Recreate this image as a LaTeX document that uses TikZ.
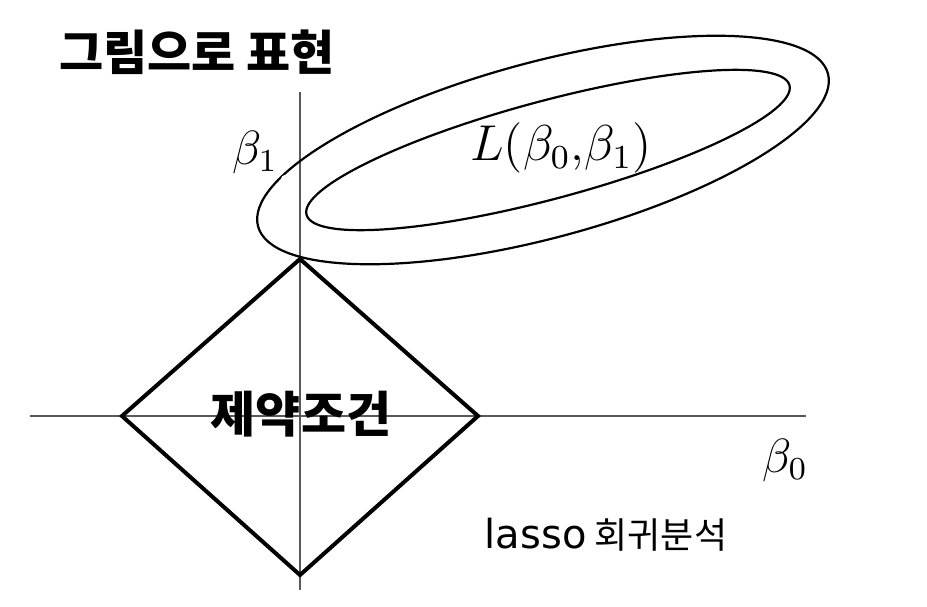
\documentclass[tikz,border=0pt]{standalone}
\usepackage{amsmath}
\usepackage{fontspec}
\usepackage{tikz}
\usetikzlibrary{calc,positioning}
\newfontfamily\cjk{Noto Sans CJK KR}
\newfontfamily\latn{DejaVu Sans}

\tikzset{
	axis/.style={draw=black!65,line width=1.5pt},
	ball/.style={draw=black,line width=4pt,line join=miter},
	contour/.style={draw=black,line width=2.2pt},
	mathlbl/.style={inner sep=0pt,font=\fontsize{12}{12}\selectfont,scale=4},
	hangul/.style={inner sep=0pt}
}

\begin{document}
\begin{tikzpicture}[x=1pt,y=-1pt]
	\useasboundingbox (0,0) rectangle (927,606);
	% axes
	\coordinate (xl) at (30,416);
	\coordinate (xr) at (806,416);
	\coordinate (yt) at (300,92);
	\coordinate (yb) at (300,590);
	\draw[axis] (xl) -- (xr);
	\draw[axis] (yt) -- (yb);
	% constraint region
	\coordinate (dl) at (122,416);
	\coordinate (dt) at (300,259);
	\coordinate (dr) at (478,416);
	\coordinate (db) at (300,575);
	\draw[ball] (dl) -- (dt) -- (dr) -- (db) -- cycle;
	% loss contours
	\draw[contour,rotate around={15:(543,150)}] (543,150) ellipse [x radius=295,y radius=88];
	\draw[contour,rotate around={15:(548,150)}] (548,150) ellipse [x radius=250,y radius=49];
	\fill[white] (285,179) circle (4);
	% labels
	\node[mathlbl] (b1) at (255,152) {$\beta_1$};
	\node[mathlbl] (b0) at (785,460) {$\beta_0$};
	\node[mathlbl,scale=1.05] (loss) at (561,148) {$L(\beta_0{,}\beta_1)$};
	\node[hangul,font=\cjk\bfseries\fontsize{48}{48}\selectfont] (title) at (197,52) {그림으로 표현};
	\node[hangul,font=\cjk\bfseries\fontsize{49}{49}\selectfont] (rule) at (301,414) {제약조건};
	\node[hangul,font=\cjk\fontsize{36}{36}\selectfont] (name) at (606,535) {{\latn\fontsize{40}{40}\selectfont lasso} 회귀분석};
\end{tikzpicture}
\end{document}
